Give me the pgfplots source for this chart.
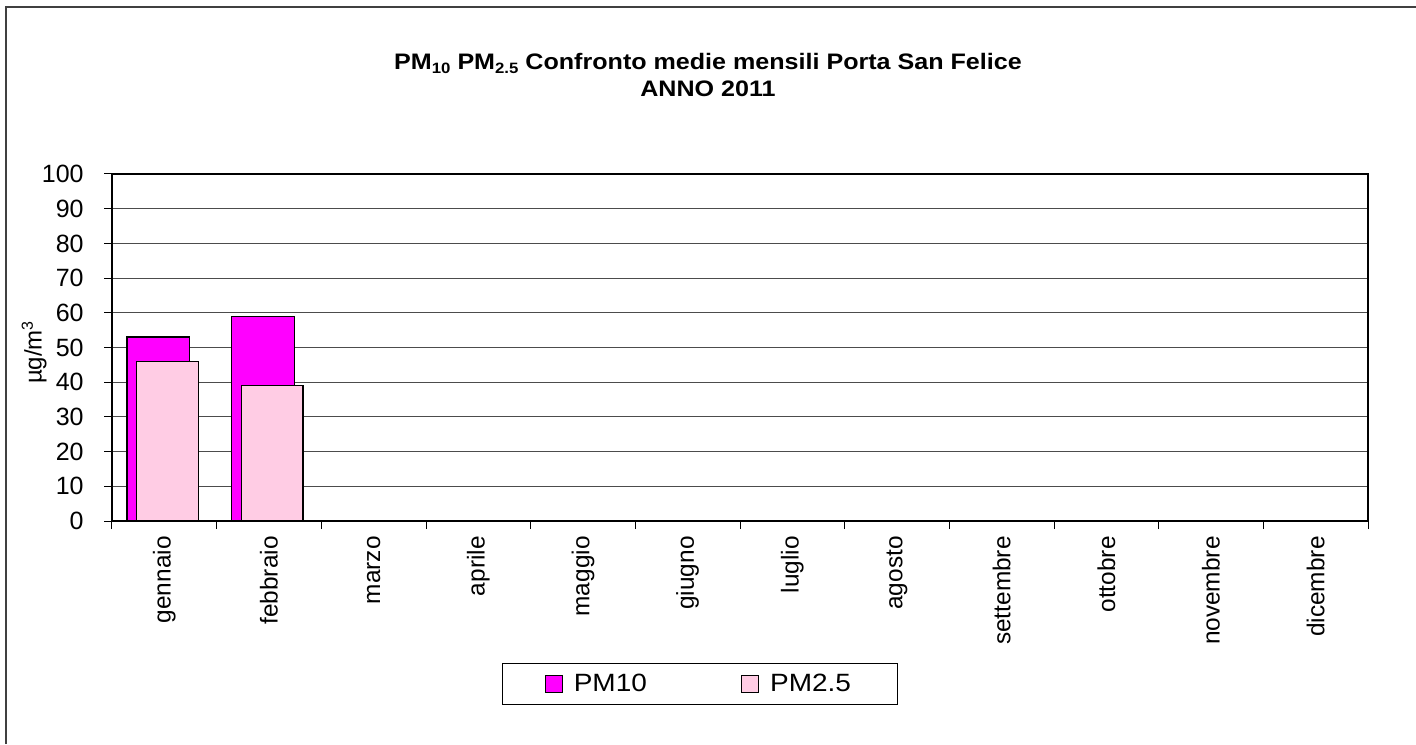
\documentclass[border=0pt]{standalone}
\usepackage{pgfplots}
\pgfplotsset{compat=1.18}
\usepackage{fontspec}
\setmainfont{Liberation Sans}
\definecolor{pmten}{RGB}{255,0,255}
\definecolor{pmtwo}{RGB}{255,204,228}
\newcommand\hs[1]{\scalebox{1.12}[1]{#1}}
\newcommand\sub[1]{\raisebox{-0.35ex}{\fontsize{7.5}{8}\selectfont #1}}
\pgfplotsset{sq legend/.style={legend image code/.code={\draw[##1,line width=0.6pt] (0pt,-4.25pt) rectangle (8.5pt,4.25pt);}}}
\begin{document}
\begin{tikzpicture}
\useasboundingbox (-56pt,-111.5pt) rectangle (652pt,260.5pt);
\draw[line width=1pt, black!75] (-52.75pt,-111.5pt) -- (-52.75pt,256.75pt) -- (652pt,256.75pt);
\begin{axis}[
  scale only axis, width=628pt, height=173.5pt,
  xmin=-0.5, xmax=11.5, ymin=0, ymax=100,
  xtick={-0.5,0.5,1.5,2.5,3.5,4.5,5.5,6.5,7.5,8.5,9.5,10.5,11.5},
  x tick label as interval,
  xticklabels={gennaio,febbraio,marzo,aprile,maggio,giugno,luglio,agosto,settembre,ottobre,novembre,dicembre},
  xticklabel style={rotate=90, anchor=east, inner sep=0pt, font=\fontsize{12.2}{14}\selectfont},
  xticklabel shift=3.5pt,
  xtick pos=bottom, ytick pos=left,
  ytick={0,10,20,30,40,50,60,70,80,90,100},
  yticklabels={0,10,20,30,40,50,60,70,80,90,100},
  yticklabel style={inner sep=0pt, font=\fontsize{12.5}{14}\selectfont},
  yticklabel shift=10pt,
  tick align=outside, major tick length=4pt,
  tick style={black, line width=0.5pt},
  ymajorgrids, grid style={black!70, line width=0.5pt},
  axis line style={black, line width=1pt},
  title={\hs{\bfseries PM\sub{10} PM\sub{2.5} Confronto medie mensili Porta San Felice}\\\hs{\bfseries ANNO 2011}},
  title style={at={(axis description cs:0.4745,1.252)}, anchor=center, align=center, font=\fontsize{11.2}{13.5}\selectfont},
  ylabel={µg/m\textsuperscript{3}},
  every axis y label/.style={at={(axis description cs:-0.062,0.487)}, rotate=90, anchor=center, font=\fontsize{12}{14}\selectfont},
  legend columns=2,
  legend style={at={(axis description cs:0.468,-0.4697)}, anchor=center, draw=black, line width=0.5pt,
    font=\fontsize{12.5}{14}\selectfont, cells={anchor=west},
    /tikz/every odd column/.append style={column sep=3.5pt},
    /tikz/every even column/.append style={column sep=45pt},
    inner xsep=21pt, inner ysep=3pt},
]
\addplot[ybar, sq legend, bar width=0.6, bar shift=-0.058, fill=pmten, draw=black, line width=0.7pt]
  coordinates {(0,53) (1,59)};
\addlegendentry{\hs{PM10}}
\addplot[ybar, sq legend, bar width=0.59, bar shift=0.03, fill=pmtwo, draw=black, line width=0.7pt]
  coordinates {(0,46) (1,39)};
\addlegendentry{\hs{PM2.5}}
\end{axis}
\end{tikzpicture}
\end{document}
